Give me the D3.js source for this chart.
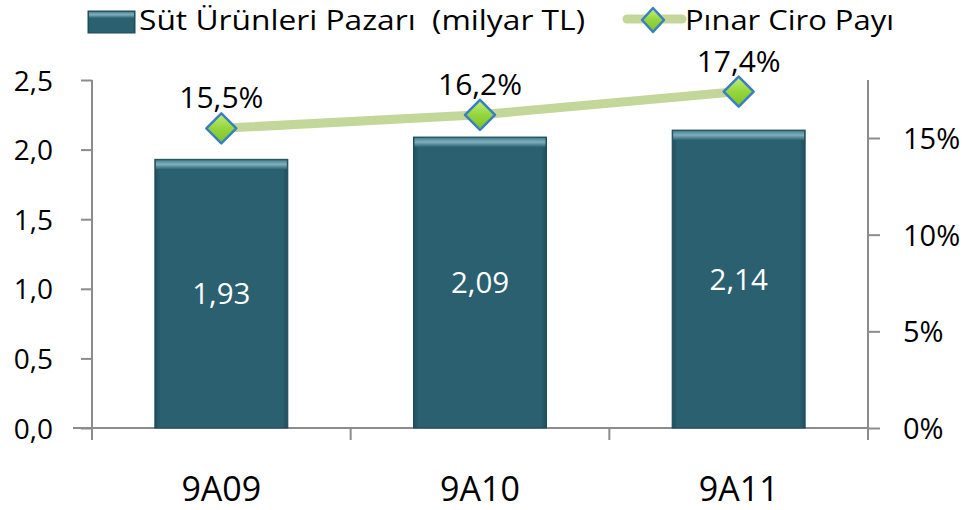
<!DOCTYPE html>
<html><head><meta charset="utf-8">
<script src="https://cdn.jsdelivr.net/npm/d3@7"></script>
<style>
html,body{margin:0;padding:0;background:#fff;}
svg{display:block;font-family:"Open Sans",sans-serif;}
</style></head>
<body>
<svg id="chart" width="965" height="510"></svg>
<script>
const categories = ["9A09", "9A10", "9A11"];
const marketValues = [1.93, 2.09, 2.14];
const shareValues = [0.155, 0.162, 0.174];
const leftTicks = [0, 0.5, 1.0, 1.5, 2.0, 2.5];
const rightTicks = [0, 0.05, 0.10, 0.15];
const seriesNames = ["Süt Ürünleri Pazarı\u00a0 (milyar TL)", "Pınar Ciro Payı"];

(function(){
const svg = d3.select("#chart");
const pL = 92, pR = 868, pT = 80, pB = 428;

const x = d3.scaleBand().domain(categories).range([pL, pR]).paddingInner(0.486).paddingOuter(0.243);
const xc = d3.scalePoint().domain(categories).range([pL, pR]).padding(0.5);
const yL = d3.scaleLinear().domain([0, 2.5]).range([pB, pT]);
const yR = d3.scaleLinear().domain([0, 0.18]).range([pB, pT]);

const defs = svg.append("defs");
const g1 = defs.append("linearGradient").attr("id","barTop").attr("x1",0).attr("x2",0).attr("y1",0).attr("y2",1);
g1.append("stop").attr("offset","0%").attr("stop-color","#4d8593");
g1.append("stop").attr("offset","45%").attr("stop-color","#7fb0bc");
g1.append("stop").attr("offset","100%").attr("stop-color","#2b6272");
const g2 = defs.append("linearGradient").attr("id","barSide").attr("x1",0).attr("x2",1).attr("y1",0).attr("y2",0);
g2.append("stop").attr("offset","0%").attr("stop-color","#1f4f5c");
g2.append("stop").attr("offset","4%").attr("stop-color","#2a6070");
g2.append("stop").attr("offset","96%").attr("stop-color","#2a6070");
g2.append("stop").attr("offset","100%").attr("stop-color","#1f4f5c");
const g3 = defs.append("linearGradient").attr("id","diam").attr("x1",0).attr("x2",0).attr("y1",0).attr("y2",1);
g3.append("stop").attr("offset","0%").attr("stop-color","#c2ee7a");
g3.append("stop").attr("offset","50%").attr("stop-color","#94d63c");
g3.append("stop").attr("offset","100%").attr("stop-color","#7cc22a");

const axisColor = "#8c8c8c";
const axL = svg.append("g").attr("transform",`translate(${pL},0)`)
  .call(d3.axisLeft(yL).tickValues(leftTicks).tickSize(11).tickPadding(28).tickFormat(d => d3.format(".1f")(d).replace(".", ",")));
const axR = svg.append("g").attr("transform",`translate(${pR},0)`)
  .call(d3.axisRight(yR).tickValues(rightTicks).tickSize(12).tickPadding(23).tickFormat(d => Math.round(d*100) + "%"));
const axB = svg.append("g").attr("transform",`translate(0,${pB})`)
  .call(d3.axisBottom(x).tickSize(0));
[axL, axR, axB].forEach(a => {
  a.selectAll("path.domain").attr("stroke", axisColor).attr("stroke-width", 2);
  a.selectAll(".tick line").attr("stroke", axisColor).attr("stroke-width", 2);
  a.selectAll("text").attr("fill","#000").attr("font-family","Open Sans, sans-serif");
});
axL.select("path.domain").attr("d", `M0,${pT}V${pB+12}`);
axR.select("path.domain").attr("d", `M0,${pT}V${pB+12}`);
axB.select("path.domain").attr("d", `M${pL-19},0H${pR}`);
axL.selectAll(".tick text").attr("font-size", 28).attr("dy","0.36em");
axR.selectAll(".tick text").attr("font-size", 29).attr("dy","0.36em");
axB.selectAll(".tick text").attr("font-size", 34).attr("y", 73).attr("dy", 0);
const bounds = [pL].concat(categories.map(c => x(c) + x.bandwidth() + x.step()*x.paddingInner()/2));
axB.selectAll("line.bound").data(bounds).enter().append("line").attr("class","bound")
  .attr("x1", d => d).attr("x2", d => d).attr("y1", 0).attr("y2", 12)
  .attr("stroke", axisColor).attr("stroke-width", 2);

const bars = svg.append("g").selectAll("g").data(categories).enter().append("g");
bars.append("rect")
  .attr("x", c => x(c)).attr("y", (c,i) => yL(marketValues[i]))
  .attr("width", x.bandwidth()).attr("height", (c,i) => pB - yL(marketValues[i]))
  .attr("fill", "url(#barSide)").attr("stroke","#1d4a56").attr("stroke-width",1);
bars.append("rect")
  .attr("x", c => x(c)+1).attr("y", (c,i) => yL(marketValues[i])+1)
  .attr("width", x.bandwidth()-2).attr("height", 9)
  .attr("fill", "url(#barTop)");
bars.append("text")
  .attr("x", c => x(c) + x.bandwidth()/2)
  .attr("y", (c,i) => (yL(marketValues[i]) + pB)/2)
  .attr("dy","0.36em").attr("text-anchor","middle")
  .attr("fill","#fff").attr("font-size",29.5)
  .text((c,i) => d3.format(".2f")(marketValues[i]).replace(".", ","));

const line = d3.line().x((d,i) => xc(categories[i])).y(d => yR(d));
svg.append("path").datum(shareValues).attr("d", line)
  .attr("fill","none").attr("stroke","#c4d79b").attr("stroke-width",9);

function diamond(sel, rx, ry){
  sel.append("path").attr("d", `M0,${-ry}L${rx},0L0,${ry}L${-rx},0Z`)
    .attr("fill","url(#diam)").attr("stroke","#3a7fc1").attr("stroke-width",2.5).attr("stroke-linejoin","round");
}
const pts = svg.append("g").selectAll("g").data(shareValues).enter().append("g")
  .attr("transform",(d,i) => `translate(${xc(categories[i])},${yR(d)})`);
diamond(pts, 15, 15);
svg.append("g").selectAll("text").data(shareValues).enter().append("text")
  .attr("x",(d,i) => xc(categories[i])).attr("y", d => yR(d) - 20)
  .attr("text-anchor","middle").attr("font-size",30).attr("fill","#000")
  .text(d => d3.format(".1f")(d*100).replace(".", ",") + "%");

const leg = svg.append("g");
leg.append("rect").attr("x",88).attr("y",11).attr("width",47).attr("height",22).attr("fill","url(#barSide)").attr("stroke","#1d4a56");
leg.append("rect").attr("x",89).attr("y",12).attr("width",45).attr("height",6).attr("fill","url(#barTop)");
leg.append("text").attr("x",139).attr("y",30).attr("font-size",27)
  .attr("textLength",446).attr("lengthAdjust","spacingAndGlyphs").text(seriesNames[0]);
leg.append("line").attr("x1",627).attr("x2",682).attr("y1",19).attr("y2",19).attr("stroke","#c4d79b").attr("stroke-width",9).attr("stroke-linecap","round");
const ld = leg.append("g").attr("transform","translate(653,20)");
diamond(ld, 11, 12);
leg.append("text").attr("x",685).attr("y",30).attr("font-size",27)
  .attr("textLength",209).attr("lengthAdjust","spacingAndGlyphs").text(seriesNames[1]);
})();
</script>
</body></html>
